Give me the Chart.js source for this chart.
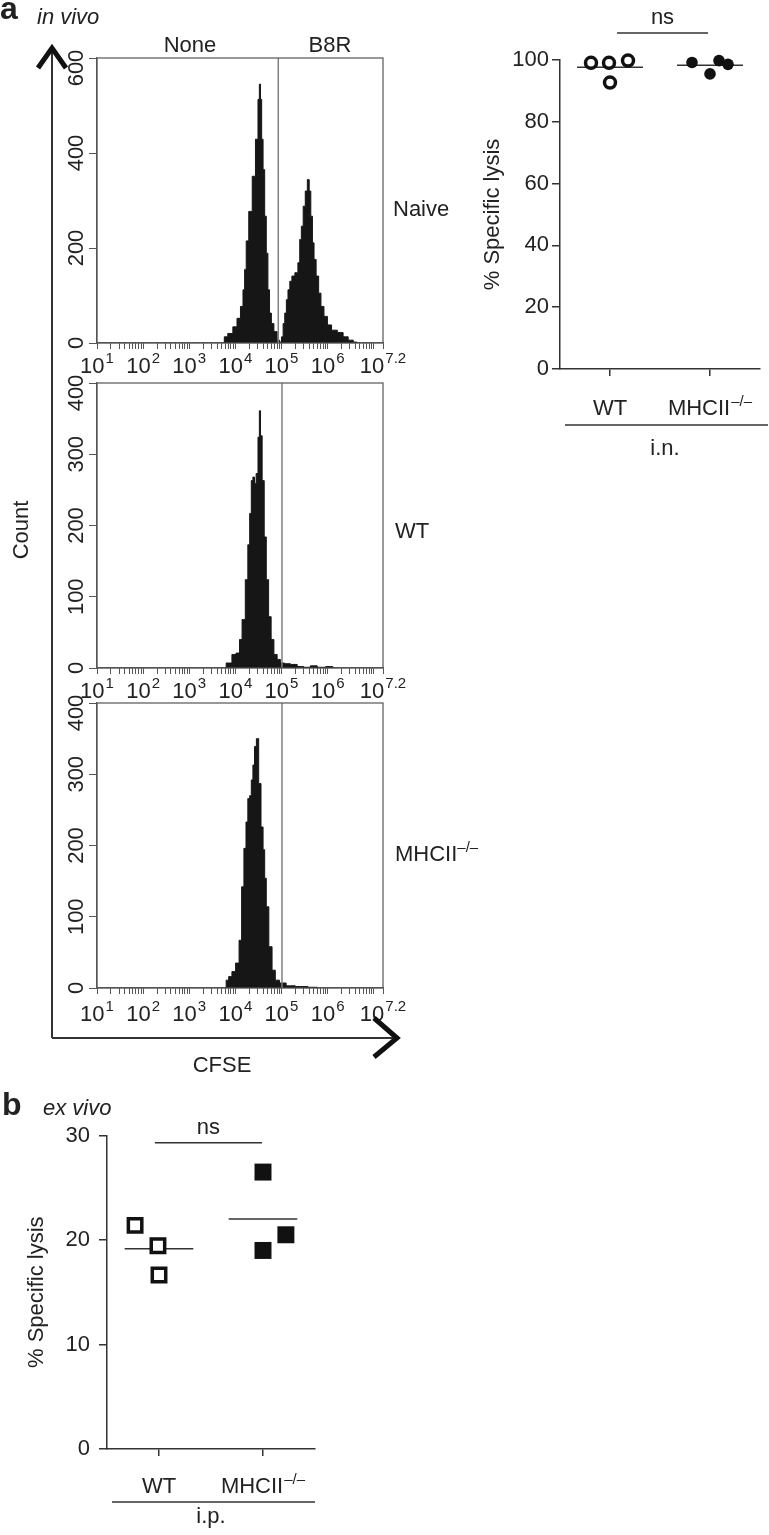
<!DOCTYPE html>
<html><head><meta charset="utf-8">
<script src="https://cdn.jsdelivr.net/npm/chart.js@4.4.1/dist/chart.umd.min.js"></script>
<style>
html,body{margin:0;padding:0;background:#fff;}
#wrap{position:relative;width:769px;height:1535px;overflow:hidden;background:#fff;}
canvas{position:absolute;}
svg{position:absolute;left:0;top:0;}
</style></head><body>
<div id="wrap">
<canvas id="h1" width="420" height="340" style="left:0;top:48px"></canvas>
<canvas id="h2" width="420" height="340" style="left:0;top:373px"></canvas>
<canvas id="h3" width="420" height="340" style="left:0;top:693px"></canvas>
<canvas id="dIn" width="329" height="470" style="left:440px;top:0"></canvas>
<canvas id="dEx" width="340" height="455" style="left:0;top:1080px"></canvas>
<svg width="769" height="1535" font-family="'Liberation Sans', Arial, Helvetica, sans-serif" fill="#222">
  <line x1="52" y1="49" x2="52" y2="1038" stroke="#333" stroke-width="2"/>
  <polyline points="38,68 52,48 66,68" fill="none" stroke="#111" stroke-width="5"/>
  <line x1="52" y1="1038" x2="396" y2="1038" stroke="#333" stroke-width="2"/>
  <polyline points="374,1018 397,1038 374,1057" fill="none" stroke="#111" stroke-width="5"/>
  <text x="0" y="19" font-size="32" font-weight="bold">a</text>
  <text x="37" y="24" font-size="22" font-style="italic">in vivo</text>
  <text x="190" y="52" font-size="22" text-anchor="middle">None</text>
  <text x="330" y="52" font-size="22" text-anchor="middle">B8R</text>
  <text x="393" y="216" font-size="22">Naive</text>
  <text x="395" y="538" font-size="22">WT</text>
  <text x="395" y="861" font-size="22">MHCII<tspan font-size="15" dy="-9">–/–</tspan></text>
  <text x="20" y="538" font-size="22" text-anchor="middle" transform="rotate(-90 20 530)">Count</text>
  <text x="222" y="1072" font-size="22" text-anchor="middle">CFSE</text>
  <text x="2" y="1115" font-size="32" font-weight="bold">b</text>
  <text x="43" y="1115" font-size="22" font-style="italic">ex vivo</text>
</svg>
</div>
<script>
// ---------- DATA ----------
// CFSE histograms (x = log10 CFSE intensity, y = count)
const naiveLogCFSE = [3.74,3.78,3.89,4.00,4.07,4.15,4.18,4.22,4.25,4.33,4.40,4.47,4.51,4.53,4.56,4.58,4.62,4.65,4.69,4.72,4.76,4.80,4.87,4.94,4.98,5.02,5.05,5.09,5.12,5.16,5.20,5.25,5.33,5.38,5.41,5.45,5.49,5.54,5.58,5.62,5.65,5.69,5.72,5.78,5.83,5.88,5.96,6.03,6.14,6.28,6.39,6.50,6.61,6.66];
const naiveCount   = [0,13,20,34,52,77,112,155,215,277,351,429,513,545,513,429,365,267,189,112,63,41,24,6,2,13,41,63,91,112,130,141,148,169,218,246,288,320,344,320,267,211,176,141,105,77,56,38,27,22,13,6,2,0];
const wtLogCFSE = [3.78,3.82,3.89,3.96,4.07,4.11,4.18,4.25,4.29,4.33,4.36,4.40,4.43,4.47,4.51,4.53,4.56,4.60,4.65,4.69,4.75,4.80,4.87,4.94,5.01,5.12,5.27,5.41,5.55,5.70,5.85,6.07,6.15];
const wtCount   = [0,7,7,19,21,40,68,124,173,217,263,268,259,273,324,361,326,263,184,124,72,40,19,12,7,6,5,2,1,3,1,2,0];
const koLogCFSE = [3.78,3.82,3.89,3.96,4.05,4.11,4.16,4.21,4.25,4.29,4.33,4.36,4.40,4.43,4.48,4.53,4.58,4.62,4.65,4.69,4.76,4.83,4.90,5.01,5.19,5.41,5.74,5.80];
const koCount   = [0,11,16,23,35,67,142,196,233,266,270,292,313,339,350,287,226,194,154,114,58,25,11,7,3,2,1,0];
const gates = [4.93, 5.01, 5.01];          // B8R gate (log10 CFSE)
const histYMax = [600, 400, 400];
const histYStep = [200, 100, 100];
const cfseMajor = [1, 2, 3, 4, 5, 6, 7, 7.2];
const cfseLabelValues = [1, 2, 3, 4, 5, 6, 7.2];
const cfseTickLabels = ['10^1', '10^2', '10^3', '10^4', '10^5', '10^6', '10^7.2'];

// in vivo specific lysis (i.n.)
const inCats = ['WT', 'MHCII^–/–'];
const inWT_x = [0.81, 0.99, 1.18, 1.00];
const inWT_y = [99.1, 99.1, 99.8, 92.7];
const inKO_x = [1.82, 2.00, 2.09, 2.18];
const inKO_y = [99.2, 95.5, 99.8, 98.6];
const inNs = {x: [1.07, 1.98], y: 108.7};

// ex vivo specific lysis (i.p.)
const exCats = ['WT', 'MHCII^–/–'];
const exWT_x = [0.77, 0.99, 1.00];
const exWT_y = [21.4, 19.45, 16.65];
const exKO_x = [2.00, 2.00, 2.22];
const exKO_y = [26.5, 19.0, 20.5];
const exNs = {x: [0.96, 1.99], y: 29.3};

// ---------- HELPERS ----------
const FONT = '"Liberation Sans", Arial, Helvetica, sans-serif';
const TXT = '#222';
function drawSup(ctx, label, cx, baseline, size, supSize, raise) {
  const parts = label.split('^');
  const main = parts[0], sup = parts[1] || '';
  ctx.font = size + 'px ' + FONT;
  const w1 = ctx.measureText(main).width;
  ctx.font = supSize + 'px ' + FONT;
  const w2 = sup ? ctx.measureText(sup).width + 1 : 0;
  const x0 = cx - (w1 + w2) / 2;
  ctx.textAlign = 'left'; ctx.textBaseline = 'alphabetic'; ctx.fillStyle = TXT;
  ctx.font = size + 'px ' + FONT; ctx.fillText(main, x0, baseline);
  if (sup) { ctx.font = supSize + 'px ' + FONT; ctx.fillText(sup, x0 + w1 + 1, baseline - raise); }
}
const mean = a => a.reduce((s, v) => s + v, 0) / a.length;
const pts = (xs, ys) => xs.map((x, i) => ({x, y: ys[i]}));

const cfseTickValues = (() => {
  const t = cfseMajor.slice();
  for (let n = 1; n <= 6; n++) for (let k = 2; k <= 9; k++) t.push(n + Math.log10(k));
  return t.sort((a, b) => a - b);
})();

const histDecor = {
  id: 'histDecor',
  afterDraw(chart, args, o) {
    const {ctx, chartArea: ca, scales: {x, y}} = chart;
    ctx.save();
    ctx.strokeStyle = '#555'; ctx.lineWidth = 1.2;
    ctx.strokeRect(ca.left, ca.top, ca.right - ca.left, ca.bottom - ca.top);
    cfseLabelValues.forEach((v, i) => {
      drawSup(ctx, cfseTickLabels[i], x.getPixelForValue(v), ca.bottom + o.labelOffset, 22, 15, 10);
    });
    ctx.font = '22px ' + FONT; ctx.fillStyle = TXT;
    y.ticks.forEach(t => {
      let py = y.getPixelForValue(t.value);
      if (t.value === y.max) py += 10;   // top label kept inside the frame
      ctx.save(); ctx.translate(83, py); ctx.rotate(-Math.PI / 2);
      ctx.textAlign = 'center'; ctx.textBaseline = 'alphabetic';
      ctx.fillText(String(t.value), 0, 0); ctx.restore();
    });
    ctx.restore();
  }
};

function makeHist(id, xs, ys, i, labelOffset) {
  new Chart(document.getElementById(id), {
    type: 'line',
    data: { datasets: [
      { data: pts(xs, ys), stepped: 'middle', fill: 'origin', backgroundColor: '#161616', borderColor: '#161616', borderWidth: 1, pointRadius: 0, order: 2 },
      { data: [{x: gates[i], y: 0}, {x: gates[i], y: histYMax[i]}], borderColor: '#808080', borderWidth: 1.5, pointRadius: 0, fill: false, order: 1 }
    ]},
    options: {
      responsive: false, animation: false, events: [],
      layout: { padding: { left: 0, top: 10, right: 37, bottom: 0 } },
      plugins: { legend: { display: false }, tooltip: { enabled: false }, histDecor: { labelOffset } },
      scales: {
        x: { type: 'linear', min: 1, max: 7.2,
             afterBuildTicks: s => { s.ticks = cfseTickValues.map(v => ({ value: v })); },
             afterFit: s => { s.height = 45; },
             ticks: { display: false },
             grid: { drawOnChartArea: false, drawTicks: true, tickLength: 6, color: '#555', lineWidth: 1 },
             border: { display: true, color: '#555', width: 1.2 } },
        y: { type: 'linear', min: 0, max: histYMax[i],
             ticks: { display: false, stepSize: histYStep[i] },
             afterFit: s => { s.width = 97; },
             grid: { drawOnChartArea: false, drawTicks: true, tickLength: 8, color: '#555', lineWidth: 1 },
             border: { display: true, color: '#555', width: 1.2 } }
      }
    },
    plugins: [histDecor]
  });
}
makeHist('h1', naiveLogCFSE, naiveCount, 0, 30);
makeHist('h2', wtLogCFSE, wtCount, 1, 30);
makeHist('h3', koLogCFSE, koCount, 2, 33);

const dotDecor = {
  id: 'dotDecor',
  afterDraw(chart, args, o) {
    const {ctx, chartArea: ca, scales: {x, y}} = chart;
    ctx.save();
    o.cats.forEach((c, i) => drawSup(ctx, c, x.getPixelForValue(i + 1), ca.bottom + o.catBase, 22, 15, 9));
    ctx.strokeStyle = '#333'; ctx.lineWidth = 1.5;
    ctx.beginPath();
    ctx.moveTo(ca.left + o.g0, ca.bottom + o.gy); ctx.lineTo(ca.right + o.g1, ca.bottom + o.gy); ctx.stroke();
    ctx.font = '22px ' + FONT; ctx.fillStyle = TXT; ctx.textAlign = 'center'; ctx.textBaseline = 'alphabetic';
    ctx.fillText(o.group, (ca.left + ca.right) / 2 + o.gdx, ca.bottom + o.gBase);
    const nx = (x.getPixelForValue(o.ns.x[0]) + x.getPixelForValue(o.ns.x[1])) / 2;
    ctx.fillText('ns', nx, y.getPixelForValue(o.ns.y) - 9);
    ctx.restore();
  }
};

function makeDot(id, cfg) {
  const mW = mean(cfg.wy), mK = mean(cfg.ky);
  new Chart(document.getElementById(id), {
    type: 'scatter',
    data: { datasets: [
      { data: [{x: 1 - 0.33, y: mW}, {x: 1 + 0.33, y: mW}], showLine: true, borderColor: '#333', borderWidth: 1.5, pointRadius: 0, order: 3 },
      { data: [{x: 2 - 0.33, y: mK}, {x: 2 + 0.33, y: mK}], showLine: true, borderColor: '#333', borderWidth: 1.5, pointRadius: 0, order: 3 },
      { data: [{x: cfg.ns.x[0], y: cfg.ns.y}, {x: cfg.ns.x[1], y: cfg.ns.y}], showLine: true, borderColor: '#333', borderWidth: 1.5, pointRadius: 0, clip: false, order: 3 },
      { data: pts(cfg.wx, cfg.wy), pointStyle: cfg.style, pointRadius: cfg.rOpen, borderWidth: 3.5, borderColor: '#111', backgroundColor: '#fff', clip: false, order: 1 },
      { data: pts(cfg.kx, cfg.ky), pointStyle: cfg.style, pointRadius: cfg.rFill, borderWidth: 0, borderColor: '#111', backgroundColor: '#111', clip: false, order: 1 }
    ]},
    options: {
      responsive: false, animation: false, events: [],
      layout: { padding: cfg.pad },
      plugins: { legend: { display: false }, tooltip: { enabled: false },
        dotDecor: { cats: cfg.cats, catBase: cfg.catBase, gy: cfg.gy, g0: cfg.g0, g1: cfg.g1, group: cfg.group, gBase: cfg.gBase, gdx: cfg.gdx, ns: cfg.ns } },
      scales: {
        x: { type: 'linear', min: 0.5, max: 2.5,
             afterBuildTicks: s => { s.ticks = [{value: 1}, {value: 2}]; },
             afterFit: s => { s.height = cfg.xh; },
             ticks: { display: false },
             grid: { drawOnChartArea: false, drawTicks: true, tickLength: 7, color: '#333', lineWidth: 1.5 },
             border: { display: true, color: '#333', width: 1.5 } },
        y: { type: 'linear', min: 0, max: cfg.ymax,
             afterFit: s => { s.width = cfg.yw; },
             ticks: { stepSize: cfg.ystep, padding: cfg.tpad, color: TXT, font: { size: 22, family: FONT } },
             grid: { drawOnChartArea: false, drawTicks: true, tickLength: 8, color: '#333', lineWidth: 1.5 },
             border: { display: true, color: '#333', width: 1.5 },
             title: { display: true, text: '% Specific lysis', color: TXT, font: { size: 22, family: FONT }, padding: { top: 4, bottom: 4 } } }
      }
    },
    plugins: [dotDecor]
  });
}

makeDot('dIn', { cats: inCats, wx: inWT_x, wy: inWT_y, kx: inKO_x, ky: inKO_y, ns: inNs,
  style: 'circle', rOpen: 5.5, rFill: 5.8, pad: {left: 36, top: 60, right: 9, bottom: 0},
  xh: 101, yw: 84, ymax: 100, ystep: 20, tpad: 3,
  catBase: 46, gy: 56, g0: 5, g1: 8, group: 'i.n.', gBase: 86, gdx: 5 });

makeDot('dEx', { cats: exCats, wx: exWT_x, wy: exWT_y, kx: exKO_x, ky: exKO_y, ns: exNs,
  style: 'rect', rOpen: 9.5, rFill: 12, pad: {left: 20, top: 55.5, right: 25, bottom: 0},
  xh: 86, yw: 87, ymax: 30, ystep: 10, tpad: 9,
  catBase: 44, gy: 53, g0: 5, g1: 0, group: 'i.p.', gBase: 74, gdx: 0 });
</script>
</body></html>
